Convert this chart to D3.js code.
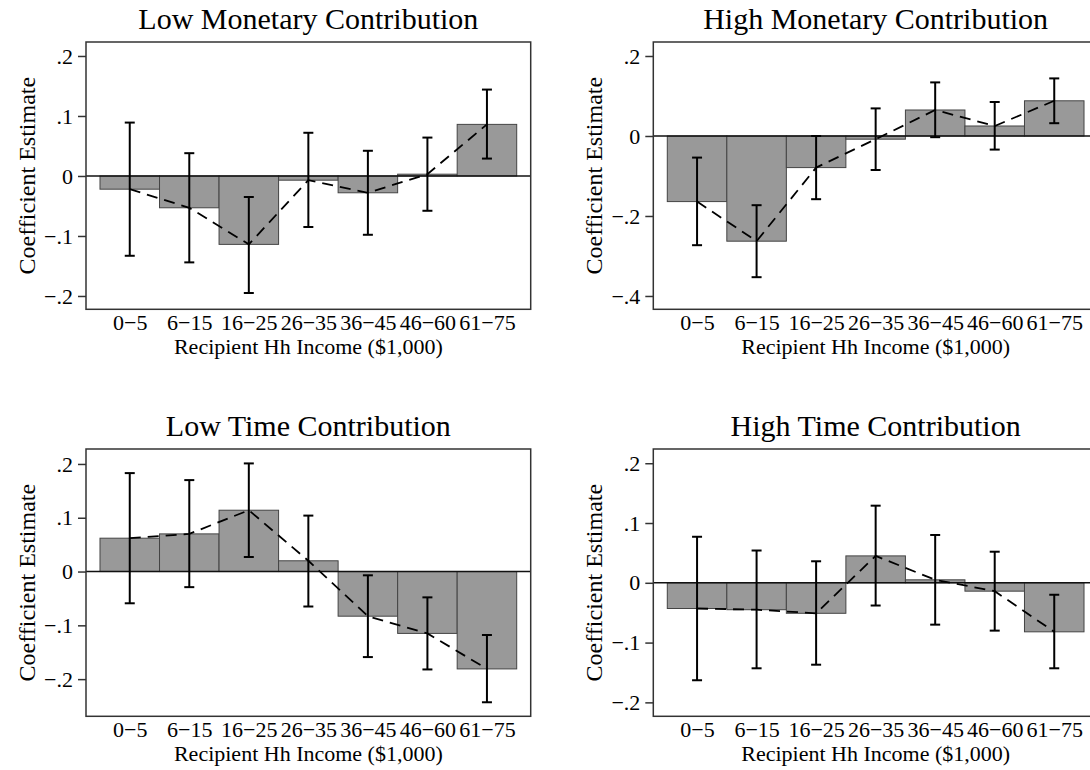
<!DOCTYPE html>
<html>
<head>
<meta charset="utf-8">
<script src="https://cdn.jsdelivr.net/npm/d3@7"></script>
<style>
  body { margin: 0; background: #fff; }
  text { font-family: "Liberation Serif", "Times New Roman", serif; fill: #000; }
</style>
</head>
<body>
<div id="chart"></div>
<script>
// income bins on the x axis
var incomeBins = ["0\u22125", "6\u221215", "16\u221225", "26\u221235", "36\u221245", "46\u221260", "61\u221275"];

// Low monetary contribution
var lowMonCoef = [-0.022, -0.053, -0.114, -0.007, -0.028, 0.003, 0.086];
var lowMonLo   = [-0.133, -0.144, -0.195, -0.085, -0.098, -0.058, 0.029];
var lowMonHi   = [0.089, 0.038, -0.035, 0.072, 0.042, 0.064, 0.144];

// High monetary contribution
var highMonCoef = [-0.164, -0.263, -0.079, -0.008, 0.065, 0.025, 0.088];
var highMonLo   = [-0.273, -0.353, -0.158, -0.085, -0.003, -0.034, 0.032];
var highMonHi   = [-0.054, -0.173, 0.000, 0.069, 0.134, 0.085, 0.144];

// Low time contribution
var lowTimeCoef = [0.062, 0.070, 0.114, 0.020, -0.083, -0.115, -0.181];
var lowTimeLo   = [-0.059, -0.029, 0.027, -0.065, -0.159, -0.182, -0.243];
var lowTimeHi   = [0.183, 0.170, 0.201, 0.104, -0.007, -0.048, -0.118];

// High time contribution
var highTimeCoef = [-0.043, -0.045, -0.051, 0.045, 0.005, -0.014, -0.082];
var highTimeLo   = [-0.163, -0.143, -0.137, -0.038, -0.070, -0.080, -0.143];
var highTimeHi   = [0.077, 0.054, 0.036, 0.129, 0.080, 0.052, -0.020];

// y axis ticks
var lowMonTicks  = [-0.2, -0.1, 0, 0.1, 0.2];
var highMonTicks = [-0.4, -0.2, 0, 0.2];
var lowTimeTicks = [-0.2, -0.1, 0, 0.1, 0.2];
var highTimeTicks = [-0.2, -0.1, 0, 0.1, 0.2];

var panels = [
  { title: "Low Monetary Contribution",  coef: lowMonCoef,  lo: lowMonLo,  hi: lowMonHi,  ticks: lowMonTicks,  yDom: [-0.2222, 0.2233], x0: 86,    y0: 42 },
  { title: "High Monetary Contribution", coef: highMonCoef, lo: highMonLo, hi: highMonHi, ticks: highMonTicks, yDom: [-0.4333, 0.235],  x0: 653.3, y0: 42 },
  { title: "Low Time Contribution",      coef: lowTimeCoef, lo: lowTimeLo, hi: lowTimeHi, ticks: lowTimeTicks, yDom: [-0.2691, 0.2278], x0: 86,    y0: 449 },
  { title: "High Time Contribution",     coef: highTimeCoef, lo: highTimeLo, hi: highTimeHi, ticks: highTimeTicks, yDom: [-0.2233, 0.2238], x0: 653.3, y0: 449 }
];

var width = 444.7, height = 267.3;

var svg = d3.select("#chart")
  .append("svg")
    .attr("width", 1090)
    .attr("height", 770);

// stata style tick labels: .2, −.1, 0
function fmt(d) {
  if (Math.abs(d) < 1e-9) return "0";
  var s = d3.format(".1f")(Math.abs(d)).replace(/^0/, "");
  return (d < 0 ? "\u2212" : "") + s;
}

panels.forEach(function(p) {
  var g = svg.append("g")
    .attr("transform", `translate(${p.x0},${p.y0})`);

  var x = d3.scaleLinear()
    .domain([0.265, 7.735])
    .range([0, width]);

  var y = d3.scaleLinear()
    .domain(p.yDom)
    .range([height, 0]);

  var rows = p.coef.map(function(c, i) {
    return { pos: i + 1, coef: c, lo: p.lo[i], hi: p.hi[i] };
  });

  // bars from zero
  g.selectAll("rect.bar")
    .data(rows)
    .join("rect")
      .attr("class", "bar")
      .attr("x", d => x(d.pos - 0.5))
      .attr("width", x(1.5) - x(0.5))
      .attr("y", d => y(Math.max(0, d.coef)))
      .attr("height", d => Math.abs(y(d.coef) - y(0)))
      .attr("fill", "#999999")
      .attr("stroke", "#444")
      .attr("stroke-width", 1);

  // zero line
  g.append("line")
    .attr("x1", 0).attr("x2", width)
    .attr("y1", y(0)).attr("y2", y(0))
    .attr("stroke", "#111")
    .attr("stroke-width", 1.6);

  // dashed line through the estimates
  var line = d3.line()
    .x(d => x(d.pos))
    .y(d => y(d.coef));
  g.append("path")
    .datum(rows)
    .attr("d", line)
    .attr("fill", "none")
    .attr("stroke", "#000")
    .attr("stroke-width", 1.8)
    .attr("stroke-dasharray", "11,7");

  // error bars
  var eb = g.selectAll("g.eb")
    .data(rows)
    .join("g")
      .attr("class", "eb")
      .attr("stroke", "#000")
      .attr("stroke-width", 2);
  eb.append("line")
    .attr("x1", d => x(d.pos)).attr("x2", d => x(d.pos))
    .attr("y1", d => y(d.lo)).attr("y2", d => y(d.hi));
  eb.append("line")
    .attr("x1", d => x(d.pos) - 5).attr("x2", d => x(d.pos) + 5)
    .attr("y1", d => y(d.lo)).attr("y2", d => y(d.lo));
  eb.append("line")
    .attr("x1", d => x(d.pos) - 5).attr("x2", d => x(d.pos) + 5)
    .attr("y1", d => y(d.hi)).attr("y2", d => y(d.hi));

  // plot box
  g.append("rect")
    .attr("width", width)
    .attr("height", height)
    .attr("fill", "none")
    .attr("stroke", "#333")
    .attr("stroke-width", 1.5);

  // y axis
  var ya = g.append("g")
    .call(d3.axisLeft(y).tickValues(p.ticks).tickFormat(fmt).tickSize(8).tickPadding(5));
  ya.select(".domain").remove();
  ya.selectAll("line").attr("stroke", "#333").attr("stroke-width", 1.5);
  ya.selectAll("text")
    .style("font-size", "22px")
    .style("font-family", "Liberation Serif");

  // x axis labels
  var xa = g.append("g")
    .attr("transform", `translate(0,${height})`)
    .call(d3.axisBottom(x).tickValues(d3.range(1, 8)).tickFormat(i => incomeBins[i - 1]).tickSize(0).tickPadding(5));
  xa.select(".domain").remove();
  xa.selectAll("text")
    .style("font-size", "22px")
    .style("font-family", "Liberation Serif");

  // titles
  g.append("text")
    .attr("x", width / 2)
    .attr("y", -13.5)
    .attr("text-anchor", "middle")
    .style("font-size", "30px")
    .text(p.title);

  g.append("text")
    .attr("x", width / 2)
    .attr("y", height + 45)
    .attr("text-anchor", "middle")
    .style("font-size", "22px")
    .text("Recipient Hh Income ($1,000)");

  g.append("text")
    .attr("transform", "rotate(-90)")
    .attr("x", -height / 2)
    .attr("y", -51)
    .attr("text-anchor", "middle")
    .style("font-size", "24px")
    .text("Coefficient Estimate");
});
</script>
</body>
</html>
